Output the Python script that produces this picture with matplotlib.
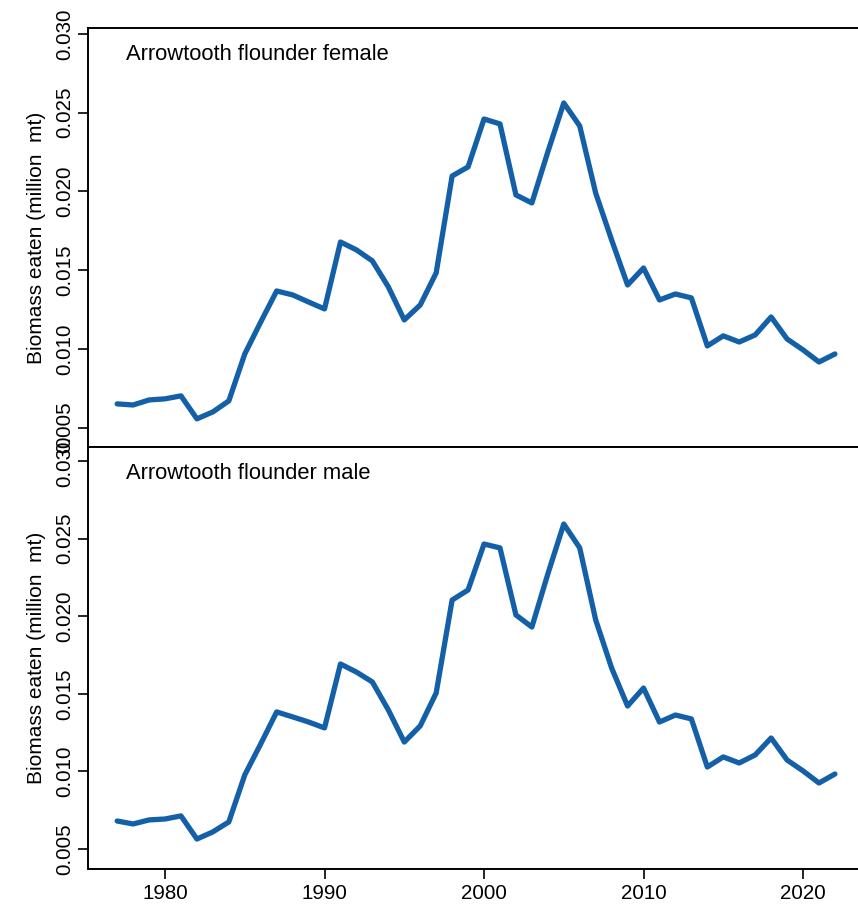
import matplotlib
matplotlib.use("Agg")
import matplotlib.pyplot as plt
import numpy as np

plt.rcParams['font.family'] = ['Liberation Sans', 'DejaVu Sans']

years = np.arange(1977, 2023)

female = [0.00651, 0.00644, 0.00676, 0.00683, 0.00702, 0.00556, 0.00600, 0.00670,
          0.00968, 0.01171, 0.01368, 0.01343, 0.01298, 0.01254, 0.01679, 0.01629,
          0.01559, 0.01394, 0.01184, 0.01279, 0.01483, 0.02098, 0.02156, 0.02460,
          0.02429, 0.01978, 0.01927, 0.02251, 0.02562, 0.02416, 0.01990, 0.01692,
          0.01406, 0.01514, 0.01311, 0.01349, 0.01324, 0.01019, 0.01083, 0.01044,
          0.01089, 0.01203, 0.01063, 0.00994, 0.00917, 0.00968]

male = [0.00680, 0.00661, 0.00687, 0.00693, 0.00713, 0.00564, 0.00610, 0.00674,
        0.00977, 0.01177, 0.01383, 0.01351, 0.01318, 0.01280, 0.01692, 0.01640,
        0.01576, 0.01396, 0.01189, 0.01293, 0.01505, 0.02104, 0.02169, 0.02465,
        0.02440, 0.02008, 0.01930, 0.02272, 0.02594, 0.02440, 0.01976, 0.01666,
        0.01421, 0.01537, 0.01318, 0.01363, 0.01338, 0.01028, 0.01093, 0.01054,
        0.01106, 0.01215, 0.01073, 0.01003, 0.00925, 0.00983]

panels = [("Arrowtooth flounder female", female),
          ("Arrowtooth flounder male", male)]
yticks = [0.005, 0.010, 0.015, 0.020, 0.025, 0.030]
xticks = [1980, 1990, 2000, 2010, 2020]

W, H = 858, 905
fig = plt.figure(figsize=(W / 100, H / 100), dpi=100)

# pixel boxes (left, top, right, bottom) and y limits for each panel
boxes = [(87.5, 28, 864.6, 447.5), (87.5, 447.5, 864.6, 868.5)]
ylims = [(0.00374, 0.03038), (0.00374, 0.03087)]

line_col = "#1460a8"

for i, ((title, vals), (l, t, r, b), ylim) in enumerate(zip(panels, boxes, ylims)):
    ax = fig.add_axes([l / W, 1 - b / H, (r - l) / W, (b - t) / H])
    ax.plot(years, vals, color=line_col, lw=3.8, solid_joinstyle='round',
            solid_capstyle='round')
    ax.set_xlim(1975.14, 2023.86)
    ax.set_ylim(*ylim)
    ax.set_yticks(yticks)
    ax.set_yticklabels(["%.3f" % v for v in yticks], rotation=90, va='center')
    ax.set_xticks(xticks)
    ax.tick_params(axis='both', direction='out', length=7, width=1.2,
                   labelsize=14.8, pad=4)
    ax.tick_params(axis='y', pad=2.5)
    if i == 0:
        ax.tick_params(axis='x', bottom=False, labelbottom=False)
    for s in ax.spines.values():
        s.set_linewidth(1.4)
    ax.set_ylabel("Biomass eaten (million  mt)", fontsize=15, labelpad=7)
    ax.annotate(title, xy=(0.05, 1), xycoords='axes fraction',
                xytext=(0, -26), textcoords='offset pixels',
                fontsize=15.8, ha='left', va='center')

fig.savefig("out.png", dpi=100)
